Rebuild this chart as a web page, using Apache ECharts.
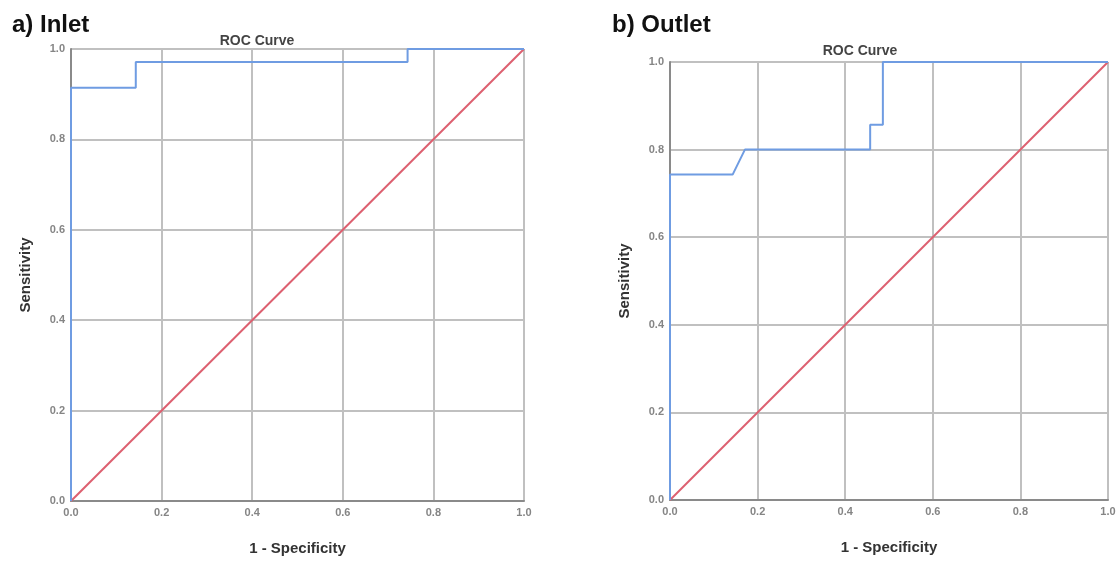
<!DOCTYPE html>
<html>
<head>
<meta charset="utf-8">
<script src="https://cdn.jsdelivr.net/npm/echarts@6/dist/echarts.min.js"></script>
<style>
  html, body { margin: 0; padding: 0; background: #fff; }
  #myChart { width: 1120px; height: 561px; }
</style>
</head>
<body>
<div id="myChart"></div>
<script>
// ROC points: [1 - specificity, sensitivity]
const inletRoc = [[0, 0], [0, 0.914], [0.143, 0.914], [0.143, 0.971], [0.743, 0.971], [0.743, 1.0], [1.0, 1.0]];
const outletRoc = [[0, 0], [0, 0.743], [0.143, 0.743], [0.171, 0.8], [0.457, 0.8], [0.457, 0.857], [0.486, 0.857], [0.486, 1.0], [1.0, 1.0]];
const referenceLine = [[0, 0], [1, 1]];

const myChart = echarts.init(document.getElementById('myChart'));

const fontFamily = '"Liberation Sans", Arial, sans-serif';

function makeAxis(gridIndex, name, isX) {
    return {
        type: 'value',
        gridIndex: gridIndex,
        min: 0,
        max: 1,
        interval: 0.2,
        name: name,
        nameLocation: 'middle',
        nameGap: isX ? 40 : 38,
        nameTextStyle: { fontFamily: fontFamily, fontSize: 15, fontWeight: 'bold', color: '#333' },
        axisLine: { show: true, lineStyle: { color: '#8a8a8a', width: 2 } },
        axisTick: { show: false },
        splitLine: { show: true, lineStyle: { color: '#c0c0c0', width: 2 } },
        axisLabel: {
            fontFamily: fontFamily,
            fontSize: 11,
            fontWeight: 'bold',
            color: '#858585',
            margin: isX ? 6 : 6,
            formatter: v => v.toFixed(1)
        }
    };
}

const option = {
    backgroundColor: '#fff',
    title: [
        { text: 'a) Inlet', left: 7, top: 8, textStyle: { fontFamily: fontFamily, fontSize: 24, fontWeight: 'bold', color: '#111' } },
        { text: 'b) Outlet', left: 607, top: 8, textStyle: { fontFamily: fontFamily, fontSize: 24, fontWeight: 'bold', color: '#111' } },
        { text: 'ROC Curve', left: 252, top: 29, textAlign: 'center', textStyle: { fontFamily: fontFamily, fontSize: 14, fontWeight: 'bold', color: '#444' } },
        { text: 'ROC Curve', left: 855, top: 39, textAlign: 'center', textStyle: { fontFamily: fontFamily, fontSize: 14, fontWeight: 'bold', color: '#444' } }
    ],
    grid: [
        { left: 71, top: 49, width: 453, height: 452 },
        { left: 670, top: 62, width: 438, height: 438 }
    ],
    xAxis: [makeAxis(0, '1 - Specificity', true), makeAxis(1, '1 - Specificity', true)],
    yAxis: [makeAxis(0, 'Sensitivity', false), makeAxis(1, 'Sensitivity', false)],
    series: [
        {
            type: 'line', xAxisIndex: 0, yAxisIndex: 0, data: referenceLine,
            symbol: 'none', lineStyle: { color: '#dd6070', width: 2 }, silent: true
        },
        {
            type: 'line', xAxisIndex: 0, yAxisIndex: 0, data: inletRoc,
            symbol: 'none', lineStyle: { color: '#6f9ce2', width: 2 }, silent: true
        },
        {
            type: 'line', xAxisIndex: 1, yAxisIndex: 1, data: referenceLine,
            symbol: 'none', lineStyle: { color: '#dd6070', width: 2 }, silent: true
        },
        {
            type: 'line', xAxisIndex: 1, yAxisIndex: 1, data: outletRoc,
            symbol: 'none', lineStyle: { color: '#6f9ce2', width: 2 }, silent: true
        }
    ]
};

myChart.setOption(option);
</script>
</body>
</html>
